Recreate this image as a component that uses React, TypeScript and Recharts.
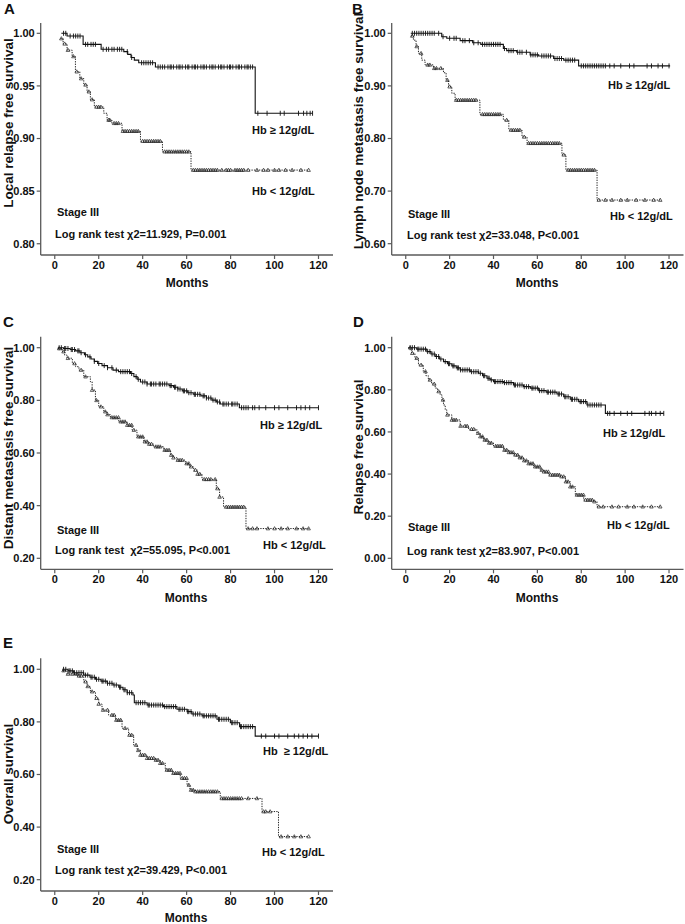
import React from "react";
import { LineChart, Line, XAxis, YAxis } from "recharts";

const FONT = '"Liberation Sans", Arial, Helvetica, sans-serif';
const AXIS = "#5a5a5a";

const X_TICKS = [0, 20, 40, 60, 80, 100, 120];
const X_DOMAIN = [-6.4, 126.6];

// ---------- Panel A : Local relapse free survival ----------
const A_HI_T = [3, 5.6, 12.9, 21.1, 31.4, 33.2, 34.7, 36.2, 38.2, 45.8, 91.2];
const A_HI_S = [1.0, 0.9974, 0.9895, 0.9848, 0.9826, 0.98, 0.977, 0.9745, 0.972, 0.968, 0.924];
const A_HI_END = 117.3;
const A_HI_CENS = [4, 5, 7, 8.5, 9.5, 10.5, 11.5, 14, 15, 16.5, 17.5, 18.5, 22, 23.5, 24.5, 26, 27, 28.5, 29.5, 30.5, 33, 35, 39.5, 40.5, 41.5, 42.5, 43.5, 44.5, 47, 48, 49, 50, 51.5, 52.5, 53, 54, 55.5, 56.5, 57, 58, 59.5, 60.5, 61, 62.5, 63.5, 64, 65, 66.5, 67.5, 68, 69, 70.5, 71.5, 72, 73, 74.5, 75.5, 76, 77, 78.5, 79.5, 80, 81, 82.5, 83.5, 84, 85, 86.5, 87.5, 88, 89, 90, 92.4, 96.6, 102.6, 104.4, 110.9, 113.2, 114.7, 116.2, 117.3];
const A_LO_T = [2.6, 3.8, 5.6, 7.9, 9.4, 11.4, 13.2, 14.7, 16.2, 18, 22.3, 23.8, 26, 30.6, 39, 49, 62];
const A_LO_S = [0.995, 0.99, 0.984, 0.978, 0.9635, 0.957, 0.951, 0.9445, 0.937, 0.93, 0.924, 0.9176, 0.9145, 0.907, 0.8975, 0.8875, 0.87];
const A_LO_END = 115.5;
const A_LO_CENS = [3, 4.5, 6, 8.5, 10, 12, 14, 15.5, 17, 19, 20, 21, 24.5, 25, 27, 28, 29, 31, 32, 33, 34, 35, 36, 37, 38, 40, 41, 42, 43, 44, 45, 46, 47, 48, 50, 51, 52, 53, 54, 55, 56, 57, 58, 59, 60, 61, 63, 64, 65, 66, 67, 68, 69, 70, 71, 72, 73, 74, 76, 78, 79, 80, 82, 83, 84, 85, 86, 88, 92, 95, 97, 100, 102, 105, 108, 112, 115.5];

// ---------- Panel B : Lymph node metastasis free survival ----------
const B_HI_T = [2.3, 16.4, 18.7, 24.8, 30.5, 34.2, 44.5, 46, 50.6, 56.7, 60.6, 67.4, 72, 78.8];
const B_HI_S = [1.0, 0.9935, 0.9905, 0.986, 0.982, 0.979, 0.971, 0.967, 0.964, 0.959, 0.957, 0.952, 0.949, 0.938];
const B_HI_END = 120.5;
const B_HI_CENS = [3, 4, 5, 6, 7, 8, 9, 10, 11, 12, 13, 15, 17, 20, 22, 23, 26, 27, 29, 31, 33, 35, 36, 37, 38, 39, 40, 41, 42, 43, 45, 47, 48, 49, 51, 52, 53, 55, 57, 58, 59, 60, 62, 63, 64, 65, 66, 68, 69, 70, 71, 73, 74, 75, 76, 77, 80, 81, 82, 83, 84, 85, 86, 87, 88, 89, 90, 91, 93, 95, 98, 102, 104, 110, 112, 115, 117, 120];
const B_LO_T = [2.3, 3.5, 4.7, 5.8, 7.3, 8.8, 12.6, 17.2, 18.4, 19.5, 21, 22.5, 33.8, 44.5, 47, 53, 55.3, 71.2, 73, 87.2];
const B_LO_S = [0.995, 0.987, 0.975, 0.962, 0.949, 0.94, 0.9335, 0.925, 0.911, 0.8985, 0.886, 0.873, 0.846, 0.835, 0.816, 0.803, 0.791, 0.769, 0.74, 0.683];
const B_LO_END = 116;
const B_LO_CENS = [3, 5, 7, 10, 11, 13, 14, 16, 19, 20, 23, 24, 25, 26, 27, 28, 29, 30, 31, 32, 35, 36, 37, 38, 39, 40, 41, 42, 43, 46, 48, 49, 50, 51, 52, 54, 56, 57, 58, 59, 60, 61, 62, 63, 64, 65, 66, 67, 68, 69, 70, 72, 74, 75, 76, 77, 78, 79, 80, 81, 82, 83, 84, 85, 86, 88, 91, 94, 98, 101, 105, 109, 113, 116];

// ---------- Panel C : Distant metastasis free survival ----------
const C_HI_T = [1.4, 4, 7, 9.5, 11.5, 13.5, 15, 16.5, 18, 19.5, 21.5, 24, 26.5, 29, 34.5, 36, 37.5, 39, 42, 52, 54, 56, 58, 60.5, 63, 66.5, 69, 71.5, 73.5, 75.3, 84];
const C_HI_S = [1.0, 0.997, 0.993, 0.988, 0.981, 0.973, 0.965, 0.957, 0.948, 0.94, 0.932, 0.924, 0.915, 0.909, 0.902, 0.89, 0.88, 0.87, 0.862, 0.856, 0.85, 0.843, 0.836, 0.829, 0.823, 0.817, 0.809, 0.801, 0.794, 0.786, 0.772];
const C_HI_END = 120;
const C_HI_CENS = [2, 3, 4.5, 5, 6, 7.5, 8, 9, 10.5, 11, 12, 14, 16, 18, 20, 22.5, 24, 26, 28, 30, 31, 32, 33, 34, 35, 37, 38, 40, 41, 42, 43.5, 44, 45, 46, 47.5, 48, 49, 50, 51, 52.5, 53, 54.5, 55, 56, 57, 58.5, 59, 60, 61, 62, 63.5, 64, 65, 66, 67.5, 68, 69, 70, 71, 72, 73, 74, 75, 76.5, 77, 78, 79, 80.5, 81, 82, 83, 85, 86, 87, 88, 90, 91, 93, 96, 100, 102, 106, 110, 112, 114, 116, 120];
const C_LO_T = [1.4, 3.4, 4.5, 5.6, 8, 9.5, 11, 13.2, 16.2, 17, 18.5, 20, 22.3, 23.8, 25.3, 29.1, 32.9, 35.2, 37.4, 40.5, 42.5, 45, 49.6, 52.6, 54, 55.6, 59.4, 61.3, 63.2, 65, 67, 73.5, 75, 76.8, 87];
const C_LO_S = [0.997, 0.985, 0.972, 0.96, 0.94, 0.928, 0.915, 0.89, 0.871, 0.839, 0.8, 0.776, 0.757, 0.746, 0.735, 0.719, 0.706, 0.687, 0.662, 0.643, 0.634, 0.624, 0.611, 0.592, 0.582, 0.573, 0.56, 0.548, 0.535, 0.52, 0.5, 0.465, 0.433, 0.395, 0.313];
const C_LO_END = 115.5;
const C_LO_CENS = [2, 4, 6, 9, 12, 14, 17, 19, 21, 23, 24, 26, 27, 28, 29, 30, 31, 32, 33, 34, 35, 36, 38, 39, 40, 41, 42, 43, 44, 46, 47, 48, 50, 51, 52, 53, 54, 56, 57, 58, 60, 61, 62, 64, 65, 66, 68, 69, 70, 71, 73, 74, 75, 78, 79, 80, 81, 82, 83, 84, 85, 86, 88, 90, 92, 97, 100, 103, 106, 110, 113, 115.5];

// ---------- Panel D : Relapse free survival ----------
const D_HI_T = [1.2, 5, 9.6, 11.5, 13.4, 15.3, 17.2, 19, 21, 23, 24.8, 29.4, 33.2, 35, 37, 38.5, 40, 44.6, 49.1, 53.7, 56.8, 60.6, 64, 68.9, 72, 75, 78.8, 82.6, 91];
const D_HI_S = [1.0, 0.993, 0.9815, 0.97, 0.958, 0.946, 0.934, 0.924, 0.9135, 0.904, 0.8945, 0.886, 0.879, 0.867, 0.855, 0.847, 0.839, 0.834, 0.823, 0.815, 0.808, 0.796, 0.789, 0.78, 0.767, 0.755, 0.744, 0.728, 0.688];
const D_HI_END = 117.6;
const D_HI_CENS = [2, 3, 4, 5.5, 6, 7, 8, 9, 10, 11, 12, 13, 14, 15, 16, 18, 19.5, 20, 21.5, 22, 23.5, 24, 25, 26, 27, 28, 29, 30, 31, 32, 33, 34, 35.5, 36, 37.5, 38, 39, 40.5, 41, 42, 43, 44, 45, 46, 47, 48, 49.5, 50, 51, 52, 53, 54, 55, 56, 57.5, 58, 59, 60, 61, 62, 63, 64.5, 65, 66, 67, 68, 69.5, 70, 71, 72.5, 73, 74, 75.5, 76, 77, 78, 79.5, 80, 81, 82, 83, 84, 85, 86, 87, 88, 89, 92, 93, 95, 98, 101, 103, 109, 111, 112, 114, 116, 117.6];
const D_LO_T = [1.2, 2.7, 4.2, 5.8, 8, 9.2, 10.3, 11.8, 13.4, 14.5, 15.7, 16.5, 17.2, 18, 18.7, 21, 24.8, 28.6, 32.4, 34, 35.4, 37.5, 40, 44.6, 47, 49.1, 51.5, 53.7, 56, 58.3, 61.3, 63, 65.1, 70.5, 72.8, 75, 77.3, 81.1, 85.7, 87.2];
const D_LO_S = [1.0, 0.974, 0.95, 0.918, 0.887, 0.867, 0.847, 0.828, 0.808, 0.792, 0.776, 0.752, 0.728, 0.705, 0.681, 0.657, 0.628, 0.613, 0.594, 0.578, 0.562, 0.548, 0.533, 0.514, 0.503, 0.491, 0.478, 0.464, 0.45, 0.435, 0.419, 0.411, 0.396, 0.388, 0.364, 0.34, 0.301, 0.277, 0.269, 0.245];
const D_LO_END = 116;
const D_LO_CENS = [2, 3, 5, 7, 9, 11, 13, 15, 17, 19, 21, 22, 23, 25, 27, 28, 30, 31, 33, 34, 35, 36, 37, 38, 39, 41, 42, 43, 44, 45, 46, 47, 48, 49, 50, 51, 52, 53, 54, 55, 56, 57, 58, 59, 60, 61, 62, 63, 64, 65, 66, 67, 68, 69, 70, 71, 72, 73, 74, 75, 76, 78, 79, 80, 81, 82, 83, 84, 85, 86, 88, 90, 94, 97, 101, 104, 108, 112, 116];

// ---------- Panel E : Overall survival ----------
const E_HI_T = [3.4, 6, 8.6, 13.2, 16, 18.5, 21, 23.8, 26.5, 29.1, 31, 32.9, 35.6, 36.2, 42, 49.5, 55.6, 60.2, 62.4, 67, 73.8, 79.9, 84.1, 91.2];
const E_HI_S = [1.0, 0.994, 0.987, 0.978, 0.97, 0.962, 0.955, 0.947, 0.94, 0.932, 0.922, 0.911, 0.902, 0.873, 0.864, 0.858, 0.848, 0.839, 0.83, 0.823, 0.81, 0.797, 0.782, 0.746];
const E_HI_END = 120;
const E_HI_CENS = [4, 5, 6.5, 7, 8, 9, 10, 11, 12, 13, 14, 15, 16.5, 17, 18, 19, 20, 21.5, 22, 23, 24, 25, 26, 27, 28, 29.5, 30, 31.5, 32, 33, 34, 35, 37, 38, 39, 40, 41, 42.5, 43, 44, 45, 46, 47, 48, 49, 50, 51, 52, 53, 54, 55, 56.5, 57, 58, 59, 60.5, 61, 62, 63, 64, 65, 66, 67.5, 68, 69, 70, 71, 72, 73, 74.5, 75, 76, 77, 78, 79, 80.5, 81, 82, 83, 84.5, 85, 86, 87, 88, 89, 90, 94, 96, 100, 102, 106, 109, 111, 113, 115, 117, 120];
const E_LO_T = [3.4, 5.6, 10.2, 13.2, 14.7, 16.2, 18.5, 20, 21.5, 24.5, 27.6, 30.6, 33.6, 35.9, 37.5, 39, 42, 45.8, 48, 50.3, 53.4, 57.1, 60.2, 61.5, 64, 75.3, 94.3, 101.8];
const E_LO_S = [0.995, 0.982, 0.975, 0.953, 0.935, 0.915, 0.89, 0.868, 0.845, 0.826, 0.807, 0.776, 0.75, 0.712, 0.692, 0.674, 0.662, 0.655, 0.643, 0.617, 0.605, 0.586, 0.56, 0.541, 0.535, 0.509, 0.459, 0.364];
const E_LO_END = 115.5;
const E_LO_CENS = [4, 6, 8, 10, 11, 12, 14, 15, 17, 19, 20, 22, 24, 26, 27, 28, 29, 30, 32, 34, 35, 37, 38, 39, 40, 41, 42, 43, 44, 45, 46, 47, 48, 49, 51, 52, 53, 54, 55, 56, 57, 58, 59, 60, 61, 62, 63, 64, 65, 66, 67, 68, 69, 70, 71, 72, 73, 74, 76, 77, 78, 79, 80, 81, 82, 83, 84, 85, 88, 92, 95, 96, 98, 103, 106, 109, 112, 115.5];

// ---------- helpers ----------
function stepData(times: number[], surv: number[], end: number) {
  const pts = times.map((t, i) => ({ t, s: surv[i] }));
  pts.push({ t: end, s: surv[surv.length - 1] });
  return pts;
}
function survAt(times: number[], surv: number[], t: number) {
  let s = surv[0];
  for (let i = 0; i < times.length; i++) if (times[i] <= t) s = surv[i];
  return s;
}
function censData(times: number[], surv: number[], cens: number[]) {
  return cens.map((t) => ({ t, s: survAt(times, surv, t) }));
}

const tickDot = (p: any) => {
  if (p.cx == null || p.cy == null) return <g key={`n${p.index}`} />;
  return (
    <line key={`k${p.index}`} x1={p.cx} x2={p.cx} y1={p.cy - 2.5} y2={p.cy + 2.5} stroke="#111" strokeWidth={0.9} />
  );
};
const triDot = (p: any) => {
  if (p.cx == null || p.cy == null) return <g key={`n${p.index}`} />;
  const { cx, cy } = p;
  return (
    <path
      key={`t${p.index}`}
      d={`M${cx - 1.8},${cy + 1.3}L${cx},${cy - 1.9}L${cx + 1.8},${cy + 1.3}Z`}
      fill="none"
      stroke="#222"
      strokeWidth={0.7}
    />
  );
};

type PanelCfg = {
  left: number; top: number; w: number; h: number;
  x0: number; x1: number; y0: number; y1: number;
  yDomain: number[]; yTicks: number[];
  hiT: number[]; hiS: number[]; hiEnd: number; hiC: number[];
  loT: number[]; loS: number[]; loEnd: number; loC: number[];
};

const tickStyle = { fill: "#111", fontSize: 11, fontWeight: 700, fontFamily: FONT };

function Panel({ c }: { c: PanelCfg }) {
  const hiStep = stepData(c.hiT, c.hiS, c.hiEnd);
  const loStep = stepData(c.loT, c.loS, c.loEnd);
  const hiCens = censData(c.hiT, c.hiS, c.hiC);
  const loCens = censData(c.loT, c.loS, c.loC);
  const xh = 30;
  return (
    <div style={{ position: "absolute", left: c.left, top: c.top, width: c.w, height: c.h }}>
      <LineChart
        width={c.w}
        height={c.h}
        margin={{ top: c.y0 - c.top, right: c.left + c.w - c.x1, bottom: c.top + c.h - c.y1 - xh, left: 0 }}
      >
        <XAxis
          type="number"
          dataKey="t"
          domain={X_DOMAIN}
          ticks={X_TICKS}
          allowDataOverflow
          interval={0}
          height={xh}
          tickSize={4}
          tickMargin={2}
          axisLine={{ stroke: AXIS, strokeWidth: 1.3 }}
          tickLine={{ stroke: AXIS, strokeWidth: 1.2 }}
          tick={tickStyle}
        />
        <YAxis
          type="number"
          domain={c.yDomain}
          ticks={c.yTicks}
          allowDataOverflow
          interval={0}
          width={c.x0 - c.left}
          tickSize={4}
          tickMargin={2}
          tickFormatter={(v: number) => v.toFixed(2)}
          axisLine={{ stroke: AXIS, strokeWidth: 1.3 }}
          tickLine={{ stroke: AXIS, strokeWidth: 1.2 }}
          tick={tickStyle}
        />
        <Line data={hiStep} dataKey="s" type="stepAfter" stroke="#111" strokeWidth={1.1} dot={false} activeDot={false} isAnimationActive={false} />
        <Line data={loStep} dataKey="s" type="stepAfter" stroke="#222" strokeWidth={1} strokeDasharray="1.3 1.2" dot={false} activeDot={false} isAnimationActive={false} />
        <Line data={hiCens} dataKey="s" stroke="none" dot={tickDot} activeDot={false} isAnimationActive={false} />
        <Line data={loCens} dataKey="s" stroke="none" dot={triDot} activeDot={false} isAnimationActive={false} />
      </LineChart>
    </div>
  );
}

const PANELS: PanelCfg[] = [
  { left: 0, top: 0, w: 340, h: 300, x0: 40.7, x1: 333, y0: 23, y1: 255, yDomain: [0.7893, 1.0098], yTicks: [0.8, 0.85, 0.9, 0.95, 1.0],
    hiT: A_HI_T, hiS: A_HI_S, hiEnd: A_HI_END, hiC: A_HI_CENS, loT: A_LO_T, loS: A_LO_S, loEnd: A_LO_END, loC: A_LO_CENS },
  { left: 340, top: 0, w: 345, h: 300, x0: 391.7, x1: 683.5, y0: 23, y1: 255, yDomain: [0.5785, 1.0196], yTicks: [0.6, 0.7, 0.8, 0.9, 1.0],
    hiT: B_HI_T, hiS: B_HI_S, hiEnd: B_HI_END, hiC: B_HI_CENS, loT: B_LO_T, loS: B_LO_S, loEnd: B_LO_END, loC: B_LO_CENS },
  { left: 0, top: 300, w: 340, h: 310, x0: 40.7, x1: 333, y0: 336.7, y1: 569.3, yDomain: [0.1582, 1.0418], yTicks: [0.2, 0.4, 0.6, 0.8, 1.0],
    hiT: C_HI_T, hiS: C_HI_S, hiEnd: C_HI_END, hiC: C_HI_CENS, loT: C_LO_T, loS: C_LO_S, loEnd: C_LO_END, loC: C_LO_CENS },
  { left: 340, top: 300, w: 345, h: 310, x0: 391.7, x1: 683.5, y0: 336.7, y1: 569.3, yDomain: [-0.0522, 1.0522], yTicks: [0, 0.2, 0.4, 0.6, 0.8, 1.0],
    hiT: D_HI_T, hiS: D_HI_S, hiEnd: D_HI_END, hiC: D_HI_CENS, loT: D_LO_T, loS: D_LO_S, loEnd: D_LO_END, loC: D_LO_CENS },
  { left: 0, top: 610, w: 340, h: 314, x0: 40.7, x1: 333, y0: 658.3, y1: 891, yDomain: [0.157, 1.0418], yTicks: [0.2, 0.4, 0.6, 0.8, 1.0],
    hiT: E_HI_T, hiS: E_HI_S, hiEnd: E_HI_END, hiC: E_HI_CENS, loT: E_LO_T, loS: E_LO_S, loEnd: E_LO_END, loC: E_LO_CENS },
];

type Lbl = { x: number; y: number; text: string; size?: number; anchor?: string; rot?: boolean };

const LABELS: Lbl[] = [
  // A
  { x: 4, y: 13.5, text: "A", size: 15 },
  { x: 12.5, y: 123, text: "Local relapse free survival", size: 13.5, anchor: "middle", rot: true },
  { x: 187, y: 287, text: "Months", size: 12, anchor: "middle" },
  { x: 252, y: 134, text: "Hb \u2265 12g/dL" },
  { x: 252, y: 194.5, text: "Hb < 12g/dL" },
  { x: 57, y: 215.5, text: "Stage III" },
  { x: 55, y: 237.5, text: "Log rank test \u03c72=11.929, P=0.001" },
  // B
  { x: 352, y: 13.5, text: "B", size: 15 },
  { x: 362.5, y: 131, text: "Lymph node metastasis free survival", size: 13.5, anchor: "middle", rot: true },
  { x: 537, y: 287, text: "Months", size: 12, anchor: "middle" },
  { x: 608, y: 89, text: "Hb \u2265 12g/dL" },
  { x: 610, y: 219.5, text: "Hb < 12g/dL" },
  { x: 408, y: 218, text: "Stage III" },
  { x: 407, y: 239, text: "Log rank test \u03c72=33.048, P<0.001" },
  // C
  { x: 3, y: 327, text: "C", size: 15 },
  { x: 12.5, y: 448, text: "Distant metastasis free survival", size: 13.5, anchor: "middle", rot: true },
  { x: 186, y: 601.5, text: "Months", size: 12, anchor: "middle" },
  { x: 260, y: 429, text: "Hb \u2265 12g/dL" },
  { x: 263, y: 549, text: "Hb < 12g/dL" },
  { x: 57, y: 533.5, text: "Stage III" },
  { x: 55, y: 554, text: "Log rank test  \u03c72=55.095, P<0.001" },
  // D
  { x: 353, y: 327, text: "D", size: 15 },
  { x: 362.5, y: 447, text: "Relapse free survival", size: 13.5, anchor: "middle", rot: true },
  { x: 537, y: 602, text: "Months", size: 12, anchor: "middle" },
  { x: 603, y: 436.5, text: "Hb \u2265 12g/dL" },
  { x: 607, y: 529, text: "Hb < 12g/dL" },
  { x: 408, y: 530.5, text: "Stage III" },
  { x: 407, y: 554.5, text: "Log rank test \u03c72=83.907, P<0.001" },
  // E
  { x: 3, y: 648, text: "E", size: 15 },
  { x: 12.5, y: 774, text: "Overall survival", size: 13.5, anchor: "middle", rot: true },
  { x: 186, y: 922, text: "Months", size: 12, anchor: "middle" },
  { x: 263, y: 754.5, text: "Hb  \u2265 12g/dL" },
  { x: 262, y: 856, text: "Hb < 12g/dL" },
  { x: 57, y: 853, text: "Stage III" },
  { x: 55, y: 874, text: "Log rank test \u03c72=39.429, P<0.001" },
];

export default function App() {
  return (
    <div style={{ position: "absolute", left: 0, top: 0, width: 685, height: 924, background: "#fff", overflow: "hidden" }}>
      {PANELS.map((c, i) => (
        <Panel key={i} c={c} />
      ))}
      <svg width={685} height={924} style={{ position: "absolute", left: 0, top: 0, pointerEvents: "none" }}>
        {LABELS.map((l, i) => (
          <text
            key={i}
            x={l.x}
            y={l.y}
            fontFamily={FONT}
            fontWeight={700}
            fontSize={l.size ?? 11}
            fill="#111"
            textAnchor={(l.anchor as any) ?? "start"}
            transform={l.rot ? `rotate(-90 ${l.x} ${l.y})` : undefined}
            style={{ whiteSpace: "pre" }}
          >
            {l.text}
          </text>
        ))}
      </svg>
    </div>
  );
}
